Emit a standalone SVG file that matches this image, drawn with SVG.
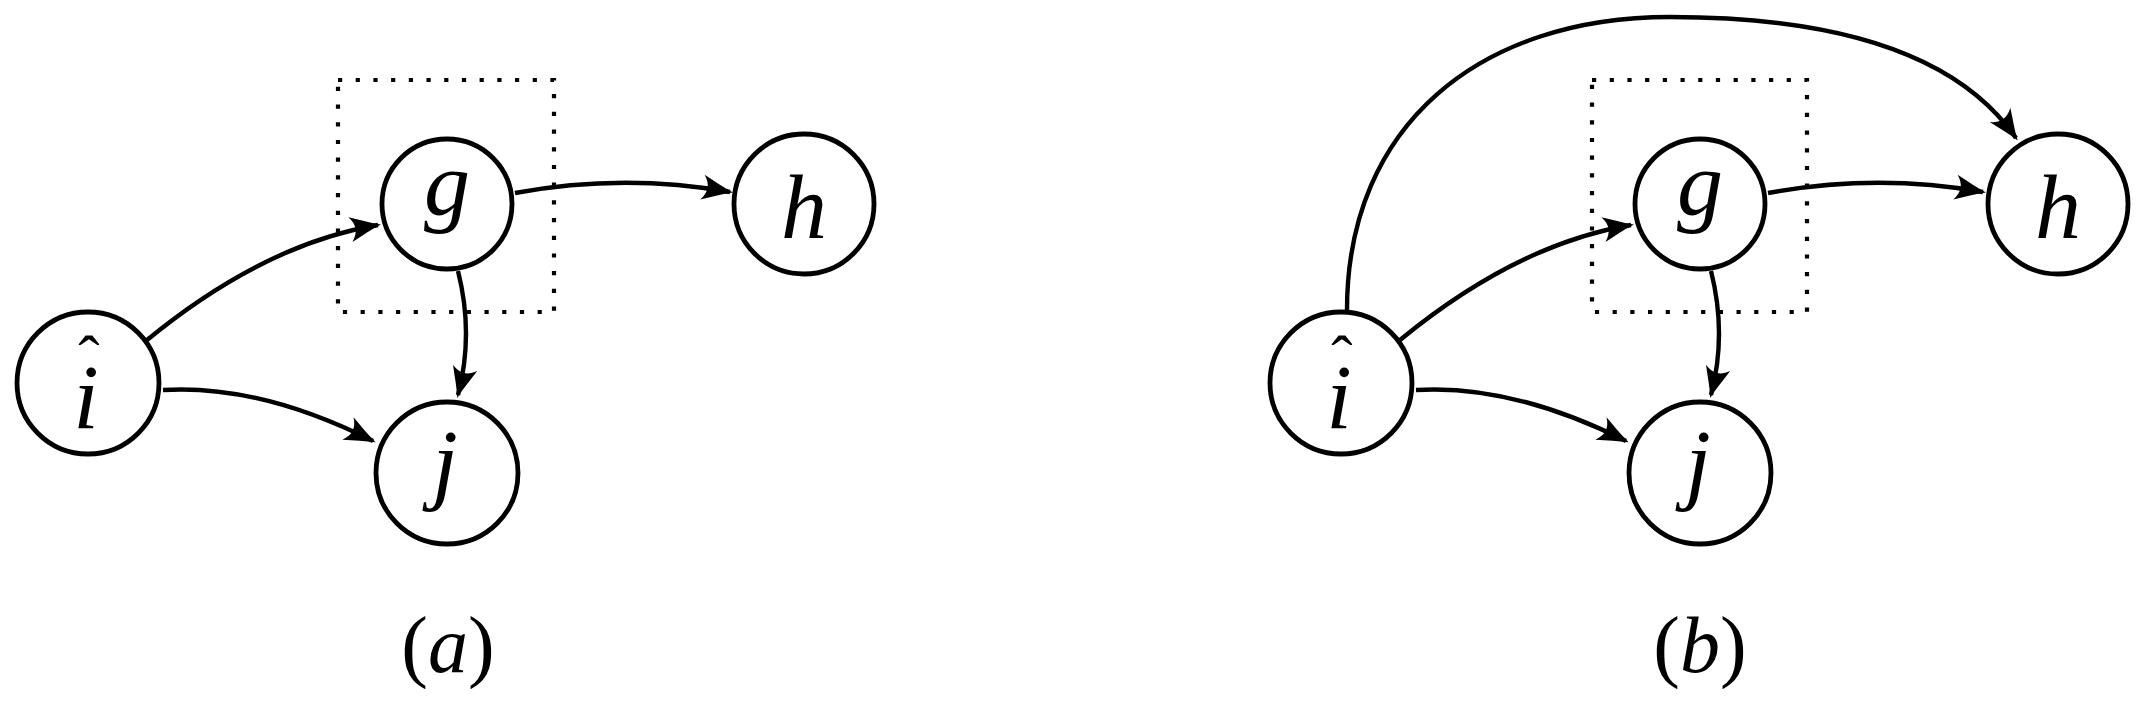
<svg xmlns="http://www.w3.org/2000/svg" width="2150" height="726" viewBox="0 0 2150 726">
<style>
.node{fill:#fff;stroke:#000;stroke-width:4.8}
.lbl{font-family:"Liberation Serif",serif;font-style:italic;font-size:92px;fill:#000;text-anchor:middle}
.hat{font-family:"Liberation Serif",serif;font-size:64px;fill:#000;text-anchor:middle}
.cap{font-family:"Liberation Serif",serif;font-size:80px;fill:#000;text-anchor:middle}
.cap tspan.it{font-style:italic}
.edge{fill:none;stroke:#000;stroke-width:4.4;marker-end:url(#arr)}
.box{fill:none;stroke:#000;stroke-width:4.2;stroke-dasharray:4.2 13.5}
</style>
<defs>
<marker id="arr" markerUnits="userSpaceOnUse" markerWidth="60" markerHeight="60" refX="0" refY="0" orient="auto" overflow="visible">
<path d="M3,0 C-7,-3 -17,-8 -28,-12.5 C-21,-4 -21,4 -28,12.5 C-17,8 -7,3 3,0 Z" fill="#000"/>
</marker>
</defs>
<rect class="box" x="338" y="80" width="216" height="232"/>
<rect class="box" x="1592" y="80" width="215" height="232"/>
<g id="connectors">
<path class="edge" d="M147,340 Q264,244 378,225"/>
<path class="edge" d="M163,390 Q259,384 373,441"/>
<path class="edge" d="M515,193 Q623,173 730,192"/>
<path class="edge" d="M458,271 Q474,334 458,395"/>
<path class="edge" d="M1400,340 Q1517,244 1631,225"/>
<path class="edge" d="M1416,390 Q1512,384 1626,441"/>
<path class="edge" d="M1768,193 Q1876,173 1983,192"/>
<path class="edge" d="M1711,271 Q1727,334 1711,395"/>
<path class="edge" d="M1347,310 C1347,125 1480,17 1670,17 C1830,17 1955,50 2016,138"/>
</g>
<g id="a_i"><circle class="node" cx="88" cy="383" r="71"/><text class="lbl" x="86" y="428">i</text><text class="hat" x="89" y="380">ˆ</text></g>
<g id="a_g"><circle class="node" cx="447" cy="204" r="65"/><text class="lbl" x="447" y="215">g</text></g>
<g id="a_h"><circle class="node" cx="804" cy="204" r="70"/><text class="lbl" x="804" y="238">h</text></g>
<g id="a_j"><circle class="node" cx="447" cy="473" r="71"/><text class="lbl" x="445" y="493">j</text></g>
<g id="b_i"><circle class="node" cx="1341" cy="383" r="71"/><text class="lbl" x="1339" y="428">i</text><text class="hat" x="1342" y="380">ˆ</text></g>
<g id="b_g"><circle class="node" cx="1700" cy="204" r="65"/><text class="lbl" x="1700" y="215">g</text></g>
<g id="b_h"><circle class="node" cx="2058" cy="204" r="70"/><text class="lbl" x="2058" y="238">h</text></g>
<g id="b_j"><circle class="node" cx="1700" cy="473" r="71"/><text class="lbl" x="1698" y="493">j</text></g>
<text class="cap" x="448" y="672">(<tspan class="it">a</tspan>)</text>
<text class="cap" x="1700" y="672">(<tspan class="it">b</tspan>)</text>
</svg>
